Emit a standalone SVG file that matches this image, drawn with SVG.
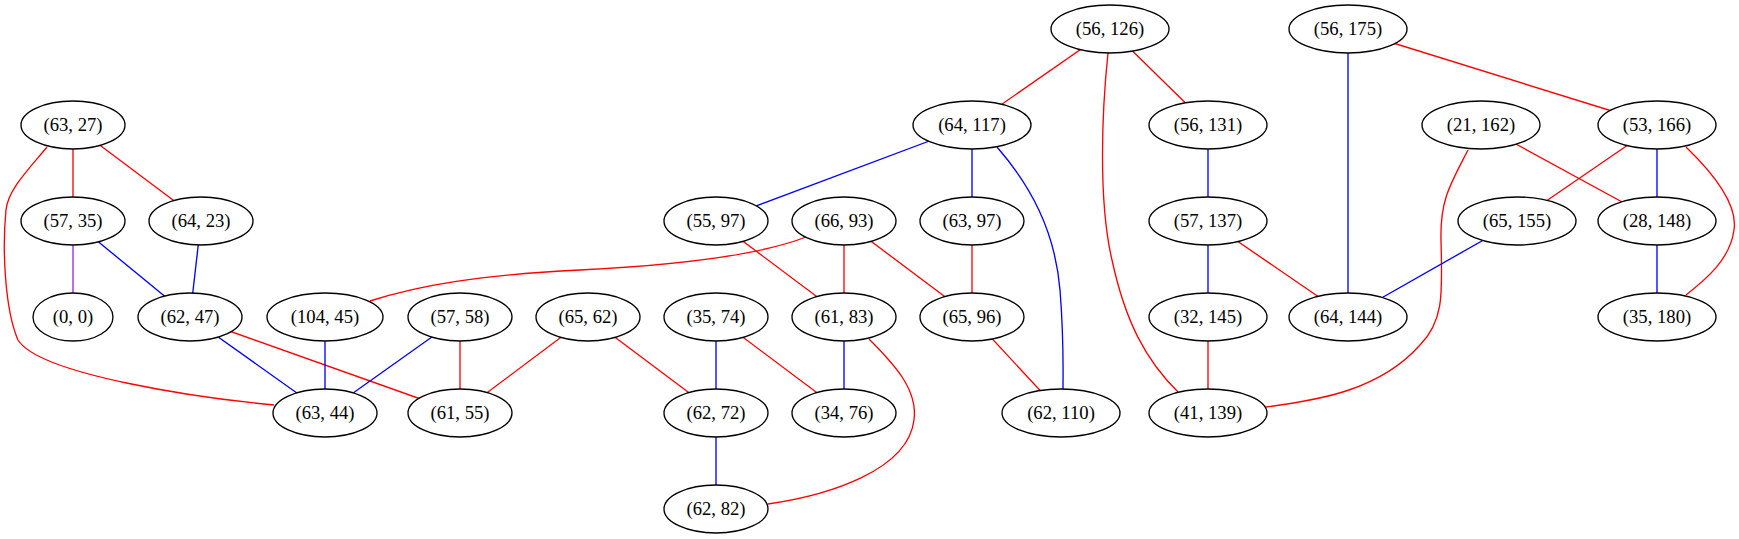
<svg xmlns="http://www.w3.org/2000/svg" width="1739" height="539" viewBox="0 0 1739 539">
<style>
.n ellipse{fill:#fff;stroke:#000;stroke-width:1.33}
.n text{font-family:'Liberation Serif','Times New Roman',serif;font-size:18.67px;text-anchor:middle;fill:#000}
#edges path,#edges line{fill:none;stroke-width:1.33}
.r{stroke:#ff0000}
.b{stroke:#0000ff}
.p{stroke:#a020f0}
</style>
<rect width="1739" height="539" fill="#fff"/>
<g id="edges">
<line class="r" x1="73" y1="125" x2="73" y2="221"/>
<line class="r" x1="73" y1="125" x2="201" y2="221"/>
<path class="r" d="M47,147 C28,170 8,190 6,210 C2,250 5,310 18,340 C40,375 200,398 274,405"/>
<line class="p" x1="73" y1="221" x2="73" y2="317"/>
<line class="b" x1="73" y1="221" x2="190" y2="317"/>
<line class="b" x1="201" y1="221" x2="190" y2="317"/>
<line class="b" x1="190" y1="317" x2="325" y2="413"/>
<line class="r" x1="190" y1="317" x2="460" y2="413"/>
<line class="b" x1="325" y1="317" x2="325" y2="413"/>
<line class="b" x1="460" y1="317" x2="325" y2="413"/>
<line class="r" x1="460" y1="317" x2="460" y2="413"/>
<line class="r" x1="588" y1="317" x2="460" y2="413"/>
<line class="r" x1="588" y1="317" x2="716" y2="413"/>
<path class="r" d="M806,237 C760,255 680,265 580,270 C480,275 420,285 370,301"/>
<line class="r" x1="844" y1="221" x2="844" y2="317"/>
<line class="r" x1="844" y1="221" x2="972" y2="317"/>
<line class="r" x1="716" y1="221" x2="844" y2="317"/>
<line class="b" x1="972" y1="125" x2="716" y2="221"/>
<line class="b" x1="972" y1="125" x2="972" y2="221"/>
<path class="b" d="M997,147 C1030,185 1055,230 1060,290 C1064,340 1063,370 1063,390"/>
<line class="r" x1="972" y1="221" x2="972" y2="317"/>
<line class="r" x1="972" y1="317" x2="1061" y2="413"/>
<line class="b" x1="716" y1="317" x2="716" y2="413"/>
<line class="r" x1="716" y1="317" x2="844" y2="413"/>
<line class="b" x1="844" y1="317" x2="844" y2="413"/>
<path class="r" d="M869,339 C895,365 918,390 914,420 C908,470 830,495 768,504"/>
<line class="b" x1="716" y1="413" x2="716" y2="509"/>
<line class="r" x1="1110" y1="29" x2="972" y2="125"/>
<line class="r" x1="1110" y1="29" x2="1208" y2="125"/>
<path class="r" d="M1108,53 C1102,110 1098,200 1112,260 C1125,320 1145,360 1179,393"/>
<line class="b" x1="1208" y1="125" x2="1208" y2="221"/>
<line class="b" x1="1208" y1="221" x2="1208" y2="317"/>
<line class="r" x1="1208" y1="221" x2="1348" y2="317"/>
<line class="r" x1="1208" y1="317" x2="1208" y2="413"/>
<line class="b" x1="1348" y1="29" x2="1348" y2="317"/>
<line class="r" x1="1348" y1="29" x2="1657" y2="125"/>
<line class="r" x1="1481" y1="125" x2="1657" y2="221"/>
<path class="r" d="M1468,150 C1450,185 1440,200 1441,240 C1442,290 1445,320 1420,345 C1380,390 1320,400 1266,407"/>
<line class="r" x1="1657" y1="125" x2="1517" y2="221"/>
<line class="b" x1="1657" y1="125" x2="1657" y2="221"/>
<path class="r" d="M1686,147 C1715,175 1738,205 1734,230 C1730,260 1705,280 1686,295"/>
<line class="b" x1="1517" y1="221" x2="1348" y2="317"/>
<line class="b" x1="1657" y1="221" x2="1657" y2="317"/>
</g>
<g font-family="Liberation Serif, Times New Roman, serif">
<g id="n_56_126" class="n"><ellipse cx="1110" cy="29" rx="59" ry="24"/><text x="1110" y="35">(56, 126)</text></g>
<g id="n_56_175" class="n"><ellipse cx="1348" cy="29" rx="59" ry="24"/><text x="1348" y="35">(56, 175)</text></g>
<g id="n_63_27" class="n"><ellipse cx="73" cy="125" rx="52" ry="24"/><text x="73" y="131">(63, 27)</text></g>
<g id="n_64_117" class="n"><ellipse cx="972" cy="125" rx="59" ry="24"/><text x="972" y="131">(64, 117)</text></g>
<g id="n_56_131" class="n"><ellipse cx="1208" cy="125" rx="59" ry="24"/><text x="1208" y="131">(56, 131)</text></g>
<g id="n_21_162" class="n"><ellipse cx="1481" cy="125" rx="59" ry="24"/><text x="1481" y="131">(21, 162)</text></g>
<g id="n_53_166" class="n"><ellipse cx="1657" cy="125" rx="59" ry="24"/><text x="1657" y="131">(53, 166)</text></g>
<g id="n_57_35" class="n"><ellipse cx="73" cy="221" rx="52" ry="24"/><text x="73" y="227">(57, 35)</text></g>
<g id="n_64_23" class="n"><ellipse cx="201" cy="221" rx="52" ry="24"/><text x="201" y="227">(64, 23)</text></g>
<g id="n_55_97" class="n"><ellipse cx="716" cy="221" rx="52" ry="24"/><text x="716" y="227">(55, 97)</text></g>
<g id="n_66_93" class="n"><ellipse cx="844" cy="221" rx="52" ry="24"/><text x="844" y="227">(66, 93)</text></g>
<g id="n_63_97" class="n"><ellipse cx="972" cy="221" rx="52" ry="24"/><text x="972" y="227">(63, 97)</text></g>
<g id="n_57_137" class="n"><ellipse cx="1208" cy="221" rx="59" ry="24"/><text x="1208" y="227">(57, 137)</text></g>
<g id="n_65_155" class="n"><ellipse cx="1517" cy="221" rx="59" ry="24"/><text x="1517" y="227">(65, 155)</text></g>
<g id="n_28_148" class="n"><ellipse cx="1657" cy="221" rx="59" ry="24"/><text x="1657" y="227">(28, 148)</text></g>
<g id="n_0_0" class="n"><ellipse cx="73" cy="317" rx="40" ry="24"/><text x="73" y="323">(0, 0)</text></g>
<g id="n_62_47" class="n"><ellipse cx="190" cy="317" rx="52" ry="24"/><text x="190" y="323">(62, 47)</text></g>
<g id="n_104_45" class="n"><ellipse cx="325" cy="317" rx="58" ry="24"/><text x="325" y="323">(104, 45)</text></g>
<g id="n_57_58" class="n"><ellipse cx="460" cy="317" rx="52" ry="24"/><text x="460" y="323">(57, 58)</text></g>
<g id="n_65_62" class="n"><ellipse cx="588" cy="317" rx="52" ry="24"/><text x="588" y="323">(65, 62)</text></g>
<g id="n_35_74" class="n"><ellipse cx="716" cy="317" rx="52" ry="24"/><text x="716" y="323">(35, 74)</text></g>
<g id="n_61_83" class="n"><ellipse cx="844" cy="317" rx="52" ry="24"/><text x="844" y="323">(61, 83)</text></g>
<g id="n_65_96" class="n"><ellipse cx="972" cy="317" rx="52" ry="24"/><text x="972" y="323">(65, 96)</text></g>
<g id="n_32_145" class="n"><ellipse cx="1208" cy="317" rx="59" ry="24"/><text x="1208" y="323">(32, 145)</text></g>
<g id="n_64_144" class="n"><ellipse cx="1348" cy="317" rx="59" ry="24"/><text x="1348" y="323">(64, 144)</text></g>
<g id="n_35_180" class="n"><ellipse cx="1657" cy="317" rx="59" ry="24"/><text x="1657" y="323">(35, 180)</text></g>
<g id="n_63_44" class="n"><ellipse cx="325" cy="413" rx="52" ry="24"/><text x="325" y="419">(63, 44)</text></g>
<g id="n_61_55" class="n"><ellipse cx="460" cy="413" rx="52" ry="24"/><text x="460" y="419">(61, 55)</text></g>
<g id="n_62_72" class="n"><ellipse cx="716" cy="413" rx="52" ry="24"/><text x="716" y="419">(62, 72)</text></g>
<g id="n_34_76" class="n"><ellipse cx="844" cy="413" rx="52" ry="24"/><text x="844" y="419">(34, 76)</text></g>
<g id="n_62_110" class="n"><ellipse cx="1061" cy="413" rx="59" ry="24"/><text x="1061" y="419">(62, 110)</text></g>
<g id="n_41_139" class="n"><ellipse cx="1208" cy="413" rx="59" ry="24"/><text x="1208" y="419">(41, 139)</text></g>
<g id="n_62_82" class="n"><ellipse cx="716" cy="509" rx="52" ry="24"/><text x="716" y="515">(62, 82)</text></g>
</g>
</svg>
